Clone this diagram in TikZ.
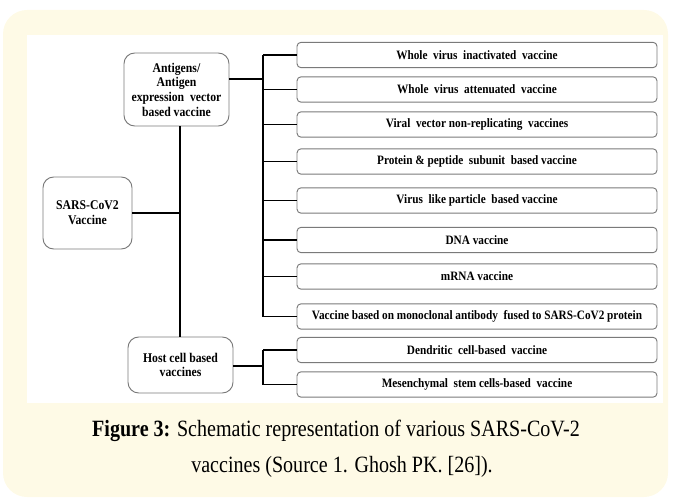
\documentclass[tikz,border=0pt]{standalone}
\usepackage{fontspec}
\setmainfont{Liberation Serif}
\newfontfamily\boxfont[FakeStretch=0.88]{Liberation Serif}
\newfontfamily\capfont[FakeStretch=0.86]{Liberation Serif}
\definecolor{creamback}{HTML}{FEFAE6}
\definecolor{boxline}{HTML}{7A7A7A}
\tikzset{
  typebox/.style={shape=rectangle, draw=boxline, line width=0.7pt, rounded corners=3pt,
    fill=white, minimum width=270pt, minimum height=19pt, inner sep=1pt,
    font=\boxfont\bfseries\fontsize{9.6}{10}\selectfont},
  groupbox/.style={shape=rectangle, draw=boxline, line width=0.7pt, rounded corners=8pt,
    fill=white, align=center, inner sep=1pt, font=\boxfont\bfseries\fontsize{10}{11}\selectfont},
  link/.style={draw=black, line width=0.8pt},
  captext/.style={anchor=base, inner sep=0pt, font=\capfont\fontsize{17.5}{21}\selectfont}
}

\begin{document}
\begin{tikzpicture}[x=0.75pt, y=-0.75pt]
\useasboundingbox (0,0) rectangle (674,499);
\fill[creamback, rounded corners=18pt] (3,10) rectangle (668,497);
\fill[white] (27,35) rectangle (663,403);
% group boxes
\node[groupbox, minimum width=66.75pt, minimum height=54pt] (sars) at (87.5,213) {SARS-CoV2\\Vaccine};
\node[groupbox, minimum width=78.75pt, minimum height=54.75pt] (ant) at (176.5,89.5) {Antigens/\\Antigen\\expression~ vector\\based vaccine};
\node[groupbox, minimum width=78.75pt, minimum height=42pt] (host) at (180.5,365) {Host cell based\\vaccines};
% vaccine types
\node[typebox] (1) at (477,55) {Whole~ virus~ inactivated~ vaccine};
\node[typebox] (2) at (477,89.5) {Whole~ virus~ attenuated~ vaccine};
\node[typebox] (3) at (477,124.5) {Viral~ vector non-replicating~ vaccines};
\node[typebox] (4) at (477,161.5) {Protein \& peptide~ subunit~ based vaccine};
\node[typebox] (5) at (477,200.5) {Virus~ like particle~ based vaccine};
\node[typebox] (6) at (477,240) {DNA vaccine};
\node[typebox] (7) at (477,276.5) {mRNA vaccine};
\node[typebox] (8) at (477,316.5) {Vaccine based on monoclonal antibody~ fused to SARS-CoV2 protein};
\node[typebox] (9) at (477,350) {Dendritic~ cell-based~ vaccine};
\node[typebox] (10) at (477,384.5) {Mesenchymal~ stem cells-based~ vaccine};
% connectors
\coordinate (spine) at (180,213);
\coordinate (antout) at (263,79);
\coordinate (hostout) at (263,366);
\draw[link] (ant.south -| spine) -- (host.north -| spine);
\draw[link] (sars.east) -- (spine);
\draw[link] (ant.east |- antout) -- (antout);
\draw[link] (antout |- 1.west) -- (antout |- 8.west);
\draw[link] (antout |- 1.west) -- (1.west);
\draw[link] (antout |- 2.west) -- (2.west);
\draw[link] (antout |- 3.west) -- (3.west);
\draw[link] (antout |- 4.west) -- (4.west);
\draw[link] (antout |- 5.west) -- (5.west);
\draw[link] (antout |- 6.west) -- (6.west);
\draw[link] (antout |- 7.west) -- (7.west);
\draw[link] (antout |- 8.west) -- (8.west);
\draw[link] (host.east |- hostout) -- (hostout);
\draw[link] (hostout |- 9.west) -- (hostout |- 10.west);
\draw[link] (hostout |- 9.west) -- (9.west);
\draw[link] (hostout |- 10.west) -- (10.west);
% caption
\node[captext] (cap1) at (336,436) {\textbf{Figure 3:} Schematic representation of various SARS-CoV-2};
\node[captext] (cap2) at (342,472) {vaccines (Source 1. Ghosh PK. [26]).};
\end{tikzpicture}
\end{document}
